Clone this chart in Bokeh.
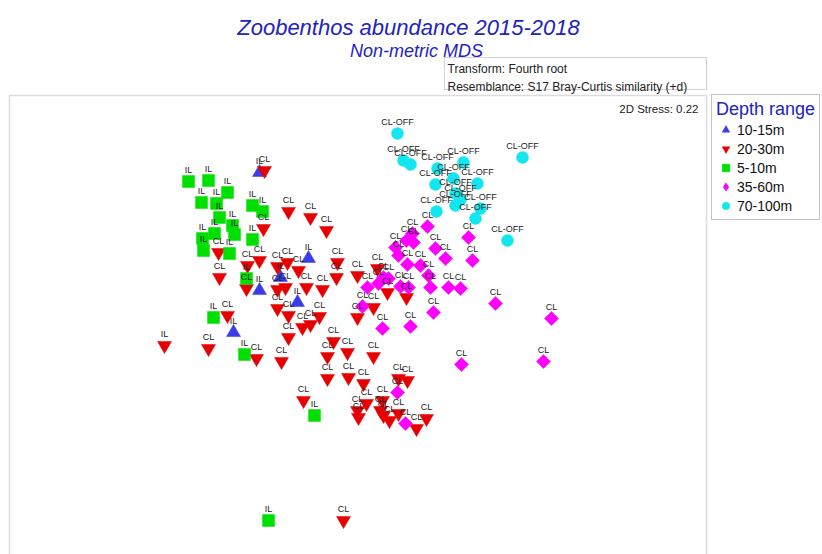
from bokeh.plotting import figure
from bokeh.models import (ColumnDataSource, LabelSet, Label, Legend, LegendItem, Range1d,
                          BoxAnnotation)
from bokeh.embed import file_html
from bokeh.resources import INLINE
from bokeh.core.properties import value
from math import pi

FONT = "Liberation Sans"

# nMDS ordination scores (arbitrary units), one set of arrays per depth range
x_10_15 = [-1.01, -0.52, -0.80, -1.01, -0.63, -1.27]
y_10_15 = [1.48, 0.62, 0.43, 0.30, 0.18, -0.12]
lab_10_15 = ["IL", "IL", "IL", "IL", "IL", "IL"]

x_20_30 = [-0.96, -0.72, -0.50, -0.34, -0.97, -1.42, -1.41, -1.13, -1.01, -1.14,
           -0.83, -0.73, -0.62, -0.23, -0.24, -0.03, 0.17, 0.27, 0.46, -0.83,
           -0.75, -0.54, -0.38, -1.33, -0.83, -0.72, -0.58, -0.50, -0.41, -0.03,
           0.13, -0.72, -0.27, -1.96, -1.52, -1.04, -0.79, -0.33, -0.13, 0.13,
           -0.33, -0.12, 0.03, -0.57, -0.03, 0.06, -0.02, 0.22, 0.20, 0.29,
           0.38, 0.47, 0.66, 0.56, 0.23, 0.38, -0.17]
y_20_30 = [1.50, 1.09, 1.03, 0.90, 0.92, 0.68, 0.43, 0.55, 0.60, 0.32,
           0.54, 0.58, 0.50, 0.58, 0.43, 0.45, 0.52, 0.28, 0.23, 0.31,
           0.33, 0.33, 0.31, 0.05, 0.12, 0.05, -0.07, -0.04, 0.04, 0.03,
           0.13, -0.17, -0.21, -0.25, -0.28, -0.38, -0.41, -0.36, -0.32, -0.36,
           -0.58, -0.57, -0.63, -0.80, -0.90, -0.83, -0.97, -0.80, -0.90, -1.00,
           -0.58, -0.60, -0.98, -1.08, -0.95, -0.93, -2.00]
lab_20_30 = ["CL"] * 33 + ["IL"] + ["CL"] * 23

x_5_10 = [-1.72, -1.52, -1.33, -1.59, -1.44, -1.41, -1.28, -1.26, -1.46, -1.58,
          -1.57, -1.31, -1.08, -0.98, -1.08, -1.14, -1.47, -1.16, -0.46, -0.92]
y_5_10 = [1.39, 1.40, 1.28, 1.18, 1.17, 1.03, 0.95, 0.86, 0.87, 0.82,
          0.70, 0.67, 1.15, 1.09, 0.81, 0.42, 0.03, -0.34, -0.95, -2.00]
lab_5_10 = ["IL"] * 20

x_35_60 = [0.67, 0.52, 0.53, 1.08, 0.35, 0.75, 0.38, 0.85, 1.12, 0.47,
           0.23, 0.68, 0.07, 0.18, 0.28, 0.40, 0.48, 0.70, 0.88, 1.00,
           0.02, 0.22, 0.50, 0.73, 1.35, 1.91, 1.01, 1.83, 0.37, 0.45,
           0.46, 0.60]
y_35_60 = [0.94, 0.87, 0.78, 0.83, 0.73, 0.72, 0.65, 0.62, 0.60, 0.56,
           0.43, 0.45, 0.33, 0.37, 0.42, 0.34, 0.33, 0.33, 0.33, 0.32,
           0.14, -0.08, -0.06, 0.08, 0.17, 0.02, -0.44, -0.41, -0.72, -1.03,
           0.80, 0.55]
lab_35_60 = ["CL"] * 32

x_70_100 = [0.37, 0.43, 0.50, 0.77, 1.03, 0.93, 1.17, 0.75, 0.95, 1.00,
            0.95, 1.20, 0.76, 1.15, 1.62, 1.47]
y_70_100 = [1.87, 1.60, 1.56, 1.52, 1.58, 1.42, 1.37, 1.36, 1.27, 1.21,
            1.15, 1.12, 1.09, 1.02, 1.63, 0.80]
lab_70_100 = ["CL-OFF"] * 16

group_names = ["10-15m", "20-30m", "5-10m", "35-60m", "70-100m"]
group_x = [x_10_15, x_20_30, x_5_10, x_35_60, x_70_100]
group_y = [y_10_15, y_20_30, y_5_10, y_35_60, y_70_100]
group_lab = [lab_10_15, lab_20_30, lab_5_10, lab_35_60, lab_70_100]
group_marker = ["triangle", "inverted_triangle", "square", "square", "circle"]
legend_marker = ["triangle", "inverted_triangle", "square", "diamond", "circle"]
group_size = [14, 14, 12, 10, 12]
group_angle = [0, 0, 0, pi / 4, 0]
group_color = ["#3c3ce6", "#e60000", "#00e000", "#ff00ff", "#14e6f0"]

W, H = 822, 554
p = figure(width=W, height=H, output_backend="svg", toolbar_location=None,
           x_range=Range1d(-3.60, 4.62), y_range=Range1d(-2.34, 3.20),
           x_axis_location=None, y_axis_location=None, title=None,
           min_border_left=0, min_border_right=0, min_border_top=0, min_border_bottom=0)
p.grid.visible = False
p.outline_line_color = None
p.background_fill_color = "white"
p.border_fill_color = "white"

# plot-area frame (screen px from the canvas' bottom-left)
p.add_layout(BoxAnnotation(left=9, right=706, top=H - 95, bottom=-5,
                           left_units="screen", right_units="screen",
                           top_units="screen", bottom_units="screen",
                           fill_alpha=0, line_color="#8a8a8a", line_width=1.5, level="underlay"))
# info box
p.add_layout(BoxAnnotation(left=444, right=706, top=H - 57, bottom=H - 89,
                           left_units="screen", right_units="screen",
                           top_units="screen", bottom_units="screen",
                           fill_alpha=0, line_color="#6a6a6a", line_width=1, level="underlay"))

nan = float("nan")
items = []
all_x, all_y, all_lab = [], [], []
for name, xs, ys, labs, mk, lmk, sz, ang, col in zip(group_names, group_x, group_y, group_lab,
                                                      group_marker, legend_marker, group_size,
                                                      group_angle, group_color):
    src = ColumnDataSource(dict(x=xs, y=ys))
    r = p.scatter(x="x", y="y", source=src, marker=mk, size=sz, angle=ang,
                  fill_color=col, line_color=col, line_width=0.5)
    if lmk != mk:
        # legend-key renderer (a single undrawable NaN point) so the key shows a diamond
        rl = p.scatter(x=[nan], y=[nan], marker=lmk, size=sz, fill_color=col, line_color=col)
        items.append(LegendItem(label=name, renderers=[rl]))
    else:
        items.append(LegendItem(label=name, renderers=[r]))
    all_x += xs
    all_y += ys
    all_lab += labs

lab_src = ColumnDataSource(dict(x=all_x, y=all_y, t=all_lab))
p.add_layout(LabelSet(x="x", y="y", text="t", source=lab_src, text_align="center",
                      text_baseline="alphabetic", y_offset=9, text_font_size="9px",
                      text_font=value(FONT), text_color="#222222"))

legend = Legend(items=items, location=(711, H - 220), title="Depth range",
                title_text_font=FONT, title_text_font_size="18px", title_text_color="#2323be",
                title_text_font_style="normal", title_standoff=0,
                label_text_font=FONT, label_text_font_size="14px", label_text_color="#111111",
                glyph_width=19, glyph_height=19, label_height=19, spacing=0, label_standoff=2,
                padding=4, margin=0, border_line_color="#888888", border_line_width=1,
                background_fill_color="white", background_fill_alpha=1)
p.add_layout(legend, "center")

title_color = "#2323be"
p.add_layout(Label(x=408, y=H - 27, x_units="screen", y_units="screen",
                   text="Zoobenthos abundance 2015-2018", text_align="center",
                   text_baseline="alphabetic", text_font=FONT, text_font_size="22px",
                   text_font_style="italic", text_color=title_color))
p.add_layout(Label(x=416, y=H - 50, x_units="screen", y_units="screen",
                   text="Non-metric MDS", text_align="center",
                   text_baseline="alphabetic", text_font=FONT, text_font_size="18px",
                   text_font_style="italic", text_color=title_color))
p.add_layout(Label(x=447, y=H - 68, x_units="screen", y_units="screen",
                   text="Transform: Fourth root", text_align="left",
                   text_baseline="alphabetic", text_font=FONT, text_font_size="12px",
                   text_color="#222222"))
p.add_layout(Label(x=447, y=H - 86.5, x_units="screen", y_units="screen",
                   text="Resemblance: S17 Bray-Curtis similarity (+d)", text_align="left",
                   text_baseline="alphabetic", text_font=FONT, text_font_size="12px",
                   text_color="#222222"))
p.add_layout(Label(x=698, y=H - 108, x_units="screen", y_units="screen",
                   text="2D Stress: 0.22", text_align="right", text_baseline="alphabetic",
                   text_font=FONT, text_font_size="11.5px", text_color="#222222"))

open("out.html", "w").write(file_html(p, INLINE))
